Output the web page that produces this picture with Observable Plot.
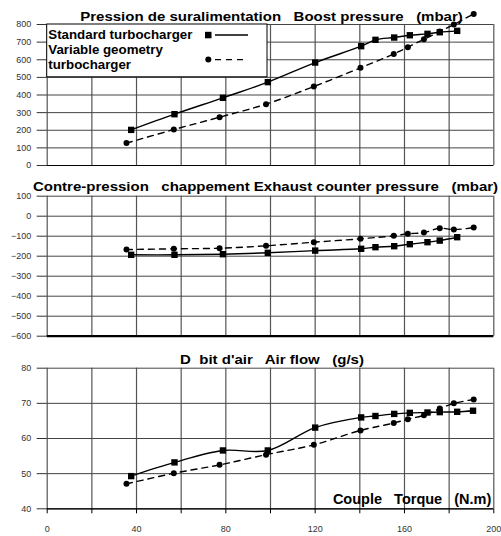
<!DOCTYPE html>
<html><head><meta charset="utf-8">
<script src="https://cdn.jsdelivr.net/npm/d3@7"></script>
<script src="https://cdn.jsdelivr.net/npm/@observablehq/plot@0.6"></script>
<style>
body{margin:0;background:#fff;}
#chart{position:relative;width:501px;height:536px;overflow:hidden;font-family:"Liberation Sans",Arial,sans-serif;background:#fff;}
#chart svg{display:block;position:absolute;left:0;overflow:visible;}
#chart svg text{white-space:pre;}
</style></head><body><div id="chart"></div>
<script>
// Torque (N.m) positions of the measurements
const torqueStd = [37.6, 57, 78.7, 98.8, 120, 140.6, 147, 155.4, 162.4, 170.3, 175.8, 183.6, 190.7];
const torqueVG  = [35.5, 56.7, 77.2, 98, 119.4, 140.3, 155.2, 161.5, 168.7, 175.8, 182.1, 191];
// Boost pressure (mbar)
const boostStd = [202, 291, 384, 473, 584, 677, 713, 726, 739, 747, 756, 764, null];
const boostVG  = [127, 204, 274, 348, 448, 554, 633, 671, 716, 760, 800, 860];
// Exhaust counter pressure (mbar)
const exhaustStd = [-193, -193, -190, -183, -172, -163, -155, -150, -140, -130, -122, -105, null];
const exhaustVG  = [-167, -163, -160, -148, -130, -113, -98, -88, -82, -60, -67, -57];
// Air flow (g/s)
const airStd = [49.3, 53.2, 56.6, 56.6, 63.1, 66.0, 66.4, 67.0, 67.3, 67.4, 67.5, 67.6, 67.9];
const airVG  = [47.1, 50.1, 52.5, 55.4, 58.2, 62.3, 64.4, 65.5, 66.6, 68.5, 70.0, 71.1];

const titles = [
  "Pression de suralimentation   Boost pressure   (mbar)",
  "Contre-pression   chappement Exhaust counter pressure   (mbar)",
  "D  bit d'air   Air flow   (g/s)"
];
const xAxisTitle = "Couple   Torque   (N.m)";
const legendLabels = ["Standard turbocharger", "Variable geometry", "turbocharger"];
const xTicks = d3.range(0, 201, 20);
const xLabels = d3.range(0, 201, 40);

function rows(xs, ys) { return xs.map((x, i) => ({x, y: ys[i]})).filter(d => d.y != null); }

const chart = document.getElementById("chart");
const FONT = "'Liberation Sans', Arial, sans-serif";

function panel(o) {
  const yTicks = d3.range(o.yDomain[0], o.yDomain[1] + 1e-9, o.yStep);
  const marks = [
    Plot.ruleX(xTicks, {stroke: "#555", strokeWidth: 1.2}),
    Plot.ruleY(yTicks, {stroke: "#444", strokeWidth: 1}),
    Plot.ruleY([o.yDomain[0]], {stroke: "black", strokeWidth: o.bottomWidth}),
    Plot.axisY(yTicks, {tickSize: 10, tickPadding: 6, fontSize: 9, color: "#333", label: null}),
    Plot.line(rows(torqueVG, o.vg), {x: "x", y: "y", curve: "catmull-rom", stroke: "black", strokeWidth: 1.4, strokeDasharray: "6,5"}),
    Plot.line(rows(torqueStd, o.std), {x: "x", y: "y", curve: "catmull-rom", stroke: "black", strokeWidth: 1.4}),
    Plot.dot(rows(torqueVG, o.vg), {x: "x", y: "y", r: 3, fill: "black", stroke: null}),
    Plot.dot(rows(torqueStd, o.std), {x: "x", y: "y", symbol: "square", r: 3.6, fill: "black", stroke: null}),
    Plot.text([o.title], {text: d => d, frameAnchor: "top", lineAnchor: "bottom", dy: o.titleDy, dx: o.titleDx, fontSize: 12, fontWeight: "bold", fill: "black"}),
    ...(o.extra || [])
  ];
  const svg = Plot.plot({
    width: 501, height: o.height,
    marginLeft: 46.7, marginRight: 7.7, marginTop: o.mt, marginBottom: o.mb,
    style: {fontFamily: FONT, background: "transparent", overflow: "visible"},
    x: {domain: [0, 200], axis: o.xAxis ? undefined : null},
    y: {domain: o.yDomain, label: null},
    marks
  });
  svg.style.top = o.top + "px";
  chart.appendChild(svg);
  svg.querySelectorAll("text").forEach(t => {
    if (t.textContent === o.title) {
      const len = t.getComputedTextLength();
      t.setAttribute("textLength", len * 1.25);
      t.setAttribute("lengthAdjust", "spacingAndGlyphs");
    }
  });
  return svg;
}

panel({top: 0, height: 175, mt: 24, mb: 10, yDomain: [0, 800], yStep: 100,
  std: boostStd, vg: boostVG, title: titles[0], titleDy: -4, titleDx: 1, bottomWidth: 1.2});

panel({top: 175, height: 170, mt: 20.7, mb: 9.3, yDomain: [-600, 100], yStep: 100,
  std: exhaustStd, vg: exhaustVG, title: titles[1], titleDy: -5.5, titleDx: -5, bottomWidth: 2.2});

panel({top: 345, height: 191, mt: 22.7, mb: 27.7, yDomain: [40, 80], yStep: 10,
  std: airStd, vg: airVG, title: titles[2], titleDy: -4.4, titleDx: 1.5, bottomWidth: 1.2, xAxis: true,
  extra: [
    Plot.axisX(xTicks, {tickSize: 5, tickFormat: () => "", stroke: "black", label: null}),
    Plot.axisX(xLabels, {tickSize: 0, tickPadding: 17, fontSize: 9, color: "#333", label: null}),
    Plot.text([xAxisTitle], {text: d => d, frameAnchor: "bottom-right", textAnchor: "end", lineAnchor: "bottom", dx: -2.5, dy: -5, fontSize: 14.5, fontWeight: "bold", fill: "black"})
  ]});

// Legend (overlay on the first panel)
const ns = "http://www.w3.org/2000/svg";
const lg = d3.select(chart).append("svg").attr("width", 501).attr("height", 80).style("top", "0px");
lg.append("rect").attr("x", 46.7).attr("y", 24).attr("width", 220.3).attr("height", 52.8)
  .attr("fill", "white").attr("stroke", "black").attr("stroke-width", 1);
[38.6, 53.6, 68.6].forEach((y, i) => {
  lg.append("text").attr("x", 48.3).attr("y", y).text(legendLabels[i])
    .attr("font-family", FONT).attr("font-size", 13.3).attr("font-weight", "bold").attr("fill", "black");
});
lg.append("rect").attr("x", 205).attr("y", 31.8).attr("width", 6.5).attr("height", 6.5).attr("fill", "black");
lg.append("line").attr("x1", 215).attr("x2", 248).attr("y1", 35).attr("y2", 35).attr("stroke", "black").attr("stroke-width", 1.4);
lg.append("circle").attr("cx", 208.3).attr("cy", 59.6).attr("r", 3).attr("fill", "black");
lg.append("line").attr("x1", 215).attr("x2", 248).attr("y1", 59.6).attr("y2", 59.6).attr("stroke", "black").attr("stroke-width", 1.4).attr("stroke-dasharray", "6,5");
</script></body></html>
